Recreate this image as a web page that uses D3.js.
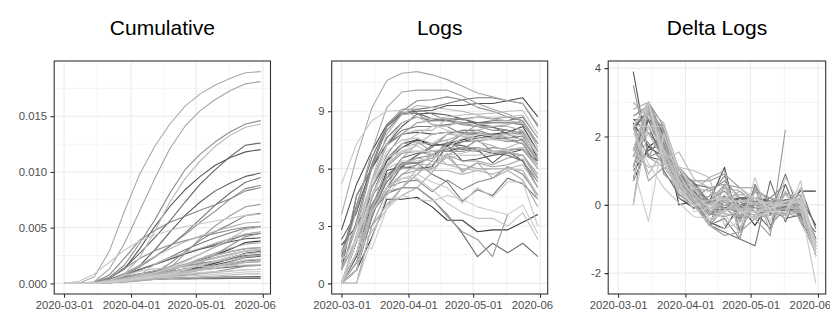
<!DOCTYPE html>
<html>
<head>
<meta charset="utf-8">
<script src="https://cdn.jsdelivr.net/npm/d3@7"></script>
<style>
  body { margin: 0; background: #fff; }
  text { font-family: "Liberation Sans", Arial, Helvetica, sans-serif; }
</style>
</head>
<body>
<script>
// one line per state, alphabetical (the grey shade follows this order)
const states = ["Alabama","Alaska","Arizona","Arkansas","California","Colorado","Connecticut","Delaware",
  "District of Columbia","Florida","Georgia","Hawaii","Idaho","Illinois","Indiana","Iowa","Kansas","Kentucky",
  "Louisiana","Maine","Maryland","Massachusetts","Michigan","Minnesota","Mississippi","Missouri","Montana",
  "Nebraska","Nevada","New Hampshire","New Jersey","New Mexico","New York","North Carolina","North Dakota",
  "Ohio","Oklahoma","Oregon","Pennsylvania","Rhode Island","South Carolina","South Dakota","Tennessee","Texas",
  "Utah","Vermont","Virginia","Washington","West Virginia","Wisconsin","Wyoming"];

const weeks = ["2020-03-01","2020-03-08","2020-03-15","2020-03-22","2020-03-29","2020-04-05","2020-04-12",
  "2020-04-19","2020-04-26","2020-05-03","2020-05-10","2020-05-17","2020-05-24","2020-05-31"];

// cumulative cases per 1000 residents
const cumPer1000 = [
  [0,0,0.03,0.16,0.41,0.78,1.09,1.36,1.70,2.11,2.56,3.06,3.67,3.81],
  [0,0,0.02,0.13,0.24,0.36,0.44,0.47,0.51,0.53,0.55,0.57,0.60,0.62],
  [0,0,0.02,0.10,0.31,0.55,0.73,0.94,1.18,1.48,1.82,2.20,2.68,2.82],
  [0,0,0.01,0.12,0.27,0.40,0.55,0.98,1.18,1.40,1.67,1.97,2.33,2.43],
  [0,0.01,0.04,0.14,0.33,0.53,0.75,1.03,1.31,1.63,1.93,2.29,2.70,2.85],
  [0,0.02,0.09,0.35,0.78,1.26,1.69,2.17,2.64,3.07,3.41,3.74,4.00,4.09],
  [0,0,0.06,0.45,1.30,3.10,5.10,6.90,8.40,9.60,10.6,11.3,11.8,12.0],
  [0,0,0.04,0.20,0.70,1.60,3.00,4.60,6.10,7.30,8.30,9.00,9.60,9.90],
  [0,0,0.09,0.45,1.40,2.70,4.10,5.60,7.30,8.90,10.2,11.4,12.4,12.6],
  [0,0,0.03,0.19,0.52,0.87,1.12,1.36,1.57,1.78,2.00,2.23,2.51,2.60],
  [0,0,0.04,0.23,0.66,1.22,1.70,2.17,2.69,3.11,3.54,3.96,4.34,4.48],
  [0,0,0.03,0.11,0.22,0.30,0.35,0.39,0.41,0.42,0.43,0.44,0.45,0.45],
  [0,0,0.02,0.16,0.61,0.83,0.97,1.08,1.16,1.24,1.35,1.46,1.60,1.64],
  [0,0.01,0.06,0.34,0.89,1.60,2.39,3.33,4.51,5.77,7.03,8.13,9.07,9.50],
  [0,0,0.03,0.25,0.70,1.22,1.74,2.34,3.01,3.58,4.10,4.55,4.95,5.07],
  [0,0,0.02,0.10,0.27,0.54,0.95,1.80,2.83,3.86,4.65,5.33,6.08,6.30],
  [0,0,0.02,0.12,0.29,0.47,0.71,1.12,1.60,2.12,2.53,2.84,3.12,3.20],
  [0,0,0.01,0.06,0.17,0.33,0.51,0.78,1.03,1.25,1.52,1.77,2.02,2.11],
  [0,0.01,0.11,0.76,2.26,3.88,4.74,5.49,6.03,6.57,7.06,7.60,8.30,8.60],
  [0,0,0.03,0.14,0.29,0.40,0.51,0.62,0.73,0.88,1.07,1.29,1.55,1.62],
  [0,0,0.03,0.18,0.63,1.46,2.37,3.37,4.38,5.48,6.48,7.58,8.50,8.80],
  [0,0.01,0.07,0.55,1.65,3.60,5.70,8.10,10.2,11.6,12.7,13.6,14.3,14.6],
  [0,0,0.04,0.44,1.34,2.24,2.94,3.44,3.84,4.19,4.49,4.79,5.04,5.12],
  [0,0,0.02,0.06,0.14,0.23,0.37,0.64,1.08,1.80,2.60,3.40,4.20,4.47],
  [0,0,0.02,0.17,0.47,0.81,1.14,1.51,2.05,2.62,3.26,3.83,4.43,4.63],
  [0,0,0.01,0.13,0.38,0.66,0.82,0.98,1.15,1.34,1.51,1.67,1.87,1.94],
  [0,0,0.02,0.13,0.27,0.41,0.47,0.50,0.52,0.53,0.53,0.56,0.56,0.56],
  [0,0,0.02,0.05,0.13,0.29,0.60,1.38,2.68,4.03,5.17,6.10,6.88,7.09],
  [0,0,0.03,0.20,0.53,0.85,1.11,1.37,1.56,1.76,1.92,2.15,2.41,2.51],
  [0,0.01,0.04,0.13,0.35,0.57,0.86,1.23,1.60,1.97,2.30,2.63,2.92,3.03],
  [0,0.01,0.15,1.30,3.60,6.50,9.40,12.1,14.1,15.5,16.5,17.3,17.9,18.1],
  [0,0,0.02,0.09,0.24,0.48,0.71,1.10,1.67,2.24,2.72,3.15,3.53,3.65],
  [0,0.01,0.60,2.90,6.50,9.80,12.3,14.3,15.9,17.0,17.8,18.4,18.9,19.0],
  [0,0,0.02,0.08,0.20,0.34,0.48,0.66,0.90,1.18,1.52,1.90,2.38,2.52],
  [0,0,0.03,0.11,0.24,0.44,0.77,1.23,1.62,2.15,2.54,2.87,3.13,3.21],
  [0,0,0.02,0.13,0.35,0.60,0.86,1.33,1.71,2.01,2.31,2.61,2.87,2.95],
  [0,0,0.01,0.08,0.20,0.38,0.53,0.66,0.79,0.89,0.99,1.09,1.22,1.26],
  [0,0,0.02,0.08,0.17,0.27,0.35,0.44,0.51,0.59,0.66,0.76,0.84,0.86],
  [0,0,0.03,0.22,0.77,1.63,2.41,3.11,3.74,4.25,4.68,5.07,5.42,5.51],
  [0,0,0.04,0.18,0.85,2.30,4.70,7.30,9.40,11.0,12.3,13.3,14.0,14.3],
  [0,0,0.02,0.12,0.31,0.57,0.73,0.86,1.02,1.18,1.36,1.59,1.90,2.00],
  [0,0,0.02,0.08,0.25,0.71,1.73,2.30,2.75,3.15,3.60,4.06,4.46,4.55],
  [0,0,0.03,0.18,0.44,0.74,0.96,1.33,1.65,1.95,2.24,2.57,2.94,3.06],
  [0,0,0.01,0.06,0.21,0.42,0.61,0.82,1.04,1.28,1.54,1.82,2.11,2.20],
  [0,0,0.03,0.16,0.35,0.54,0.75,1.00,1.28,1.63,1.94,2.29,2.66,2.79],
  [0,0,0.06,0.30,0.70,1.10,1.30,1.40,1.46,1.51,1.56,1.59,1.65,1.67],
  [0,0,0.01,0.07,0.25,0.54,0.95,1.36,1.93,2.64,3.34,4.05,4.81,5.05],
  [0.02,0.20,0.85,1.90,3.00,3.80,4.35,4.75,5.10,5.35,5.60,5.85,6.10,6.20],
  [0,0,0.01,0.06,0.20,0.37,0.48,0.56,0.64,0.72,0.83,0.91,1.02,1.06],
  [0,0,0.03,0.16,0.33,0.50,0.67,0.88,1.22,1.63,2.01,2.44,2.96,3.10],
  [0,0.02,0.03,0.12,0.30,0.44,0.57,0.74,0.89,0.99,1.07,1.13,1.23,1.26]
];

// log of weekly new cases (null = no value drawn)
const logs = [
  [0,2.2,5.0,6.4,7.1,7.5,7.3,7.2,7.4,7.6,7.7,7.8,8.0,6.5],
  [0,0.7,2.4,4.4,4.4,4.5,4.0,3.3,3.3,2.7,2.8,2.8,3.2,3.6],
  [2.0,3.0,4.6,6.4,7.3,7.5,7.2,7.3,7.5,7.7,7.8,7.9,8.2,6.9],
  [0,1.1,3.6,5.9,6.1,6.0,6.1,7.2,6.4,6.5,6.7,6.8,7.0,6.4],
  [2.8,5.2,6.9,8.3,8.9,9.0,9.05,9.3,9.3,9.4,9.4,9.55,9.7,8.7],
  [0.7,4.6,6.0,7.3,7.8,7.9,7.8,7.9,7.9,7.8,7.6,7.55,7.3,6.2],
  [0,2.3,5.3,7.3,8.2,8.85,8.9,8.8,8.6,8.3,8.2,7.8,7.5,6.4],
  [0,1.4,3.7,5.0,6.1,6.7,7.2,7.3,7.2,7.0,6.3,6.9,6.4,5.3],
  [0,1.6,4.1,5.5,6.55,6.8,6.9,6.9,7.1,7.0,6.8,6.7,6.4,5.0],
  [2.3,3.7,6.2,8.2,8.85,8.9,8.6,8.5,8.4,8.4,8.5,8.5,8.7,7.6],
  [1.4,3.9,6.0,7.6,8.4,8.7,8.5,8.5,8.6,8.4,8.4,8.4,8.3,7.3],
  [0,0.7,3.7,4.7,5.0,5.0,4.4,3.6,2.6,1.4,2.1,1.6,2.1,1.4],
  [0,0.7,3.4,5.5,6.3,6.3,5.7,5.3,4.3,4.9,4.6,5.5,5.2,4.4],
  [1.6,4.1,6.55,8.2,8.85,9.1,9.2,9.4,9.6,9.7,9.7,9.55,9.4,8.2],
  [0,2.3,5.3,7.3,8.0,8.2,8.2,8.3,8.4,8.2,8.15,8.0,7.9,6.7],
  [0,2.3,4.1,5.3,6.2,6.7,7.1,7.8,8.0,8.0,7.75,7.6,7.7,6.4],
  [0,1.6,3.7,5.7,6.2,6.3,6.55,7.4,7.0,7.5,6.9,6.8,6.7,5.5],
  [0,2.3,3.7,5.3,6.2,6.55,6.7,7.1,7.0,6.9,7.1,7.0,7.0,6.0],
  [0.7,3.3,6.2,8.0,8.85,8.9,8.3,8.2,7.8,7.8,7.75,7.8,7.9,6.7],
  [0,0.7,3.7,5.0,5.3,5.4,4.8,5.4,4.9,5.3,5.5,6.1,5.7,4.6],
  [0,2.3,5.0,6.7,7.8,8.4,8.5,8.6,8.6,8.7,8.6,8.7,8.5,7.3],
  [1.1,4.6,6.0,8.2,9.0,9.55,9.6,9.75,9.6,9.2,9.0,8.7,8.5,7.3],
  [0.7,3.0,6.0,8.3,9.1,9.1,8.85,8.5,8.3,8.2,8.0,8.0,7.8,6.7],
  [0,1.6,4.6,5.5,6.0,6.2,6.7,7.3,7.8,8.3,8.4,8.4,8.4,7.3],
  [0,1.1,3.9,6.1,6.8,6.9,6.9,7.0,7.4,7.45,7.55,7.4,7.5,6.4],
  [0,1.6,4.4,6.55,7.3,7.4,6.9,6.9,6.9,7.1,6.9,6.9,7.1,6.0],
  [0,0,3.0,4.8,5.0,5.0,4.4,3.5,2.7,2.3,1.4,3.6,null,null],
  [0,2.3,3.0,4.1,5.0,5.7,6.4,7.3,7.8,7.9,7.7,7.5,7.3,6.0],
  [0,1.6,4.6,6.2,6.9,6.9,6.7,6.7,6.4,6.4,6.2,6.55,6.7,5.7],
  [0.7,2.3,3.7,4.8,5.7,5.9,6.0,6.6,5.9,6.3,6.1,6.2,6.5,5.0],
  [1.1,3.9,6.9,9.2,10.0,10.1,10.1,10.1,9.8,9.4,9.1,8.85,8.5,7.3],
  [0,1.6,3.7,5.0,5.7,6.2,6.2,6.7,7.1,7.1,6.9,6.8,6.7,5.5],
  [3.6,6.6,9.15,10.6,10.98,11.07,10.9,10.65,10.3,9.95,9.75,9.55,9.4,8.3],
  [0.7,2.3,5.0,6.55,7.1,7.3,7.3,7.5,7.8,8.0,8.2,8.3,8.5,7.3],
  [0,0,3.0,4.1,4.6,5.0,5.8,6.8,5.8,6.3,5.5,5.9,5.4,4.0],
  [0,2.3,5.3,7.2,7.8,8.0,8.0,8.6,8.4,8.2,8.2,8.2,8.0,6.9],
  [0,1.1,3.9,5.5,6.2,6.55,6.4,6.2,6.2,6.0,6.0,6.0,6.2,5.0],
  [0.7,3.0,3.9,5.5,6.0,6.0,5.9,5.9,5.7,5.9,5.7,6.0,5.9,4.6],
  [0,2.6,5.4,7.8,8.85,9.3,9.2,9.1,9.0,8.8,8.6,8.5,8.4,7.1],
  [0,1.6,3.7,5.0,6.55,7.3,7.8,7.9,7.7,7.4,7.2,6.9,6.7,5.3],
  [0,2.3,4.6,6.2,6.9,7.2,6.7,6.55,6.7,6.7,6.8,7.1,7.4,6.2],
  [0,1.6,2.7,3.9,5.0,6.0,6.8,6.2,6.0,5.9,6.0,6.0,5.9,4.4],
  [0,2.3,5.3,6.9,7.5,7.6,7.3,7.8,7.7,7.6,7.6,7.7,7.8,6.7],
  [1.6,3.0,5.3,7.3,8.4,8.7,8.6,8.7,8.8,8.85,8.9,9.0,9.05,7.8],
  [0,1.6,4.6,6.0,6.4,6.4,6.55,6.7,6.8,7.0,6.9,7.0,7.1,6.0],
  [0,0.7,3.7,5.0,5.5,5.5,4.9,4.2,3.7,3.4,3.4,3.0,3.7,2.3],
  [0,2.3,4.6,6.2,7.3,7.8,8.2,8.2,8.5,8.7,8.7,8.7,8.8,7.6],
  [5.2,7.3,8.5,9.0,9.05,8.7,8.3,8.0,7.8,7.6,7.5,7.5,7.6,6.5],
  [0,0,2.3,4.6,5.5,5.7,5.3,5.0,4.2,5.0,4.5,5.3,5.3,3.0],
  [0,2.3,5.3,6.55,6.9,6.9,6.9,7.1,7.6,7.8,7.7,7.8,8.0,6.7],
  [1.2,2.3,1.8,3.9,4.6,4.4,4.3,4.6,4.4,4.0,3.8,3.6,4.1,2.6]
];

// week-on-week change of the logs, from 2020-03-08
const deltaLogs = [
  [2.2,2.8,1.4,0.7,0.4,-0.2,-0.1,0.2,0.2,0.1,0.1,0.2,-1.5],
  [0.7,1.7,2.0,0,0.1,-0.5,-0.7,0,-0.6,0.1,0,0.4,0.4],
  [1.0,1.6,1.8,0.9,0.2,-0.3,0.1,0.2,0.2,0.1,0.1,0.3,-1.3],
  [1.1,2.5,2.3,0.2,-0.1,0.1,1.1,-0.8,0.1,0.2,0.1,0.2,-0.6],
  [2.4,1.7,1.4,0.6,0.1,0.05,0.25,0,0.1,0,0.15,0.15,-1.0],
  [3.9,1.4,1.3,0.5,0.1,-0.1,0.1,0,-0.1,-0.2,-0.05,-0.25,-1.1],
  [2.3,3.0,2.0,0.9,0.65,0.05,-0.1,-0.2,-0.3,-0.1,-0.4,-0.3,-1.1],
  [1.4,2.3,1.3,1.1,0.6,0.5,0.1,-0.1,-0.2,-0.7,0.6,-0.5,-1.1],
  [1.6,2.5,1.4,1.05,0.25,0.1,0,0.2,-0.1,-0.2,-0.1,-0.3,-1.4],
  [1.4,2.5,2.0,0.65,0.05,-0.3,-0.1,-0.1,0,0.1,0,0.2,-1.1],
  [2.5,2.1,1.6,0.8,0.3,-0.2,0,0.1,-0.2,0,0,-0.1,-1.0],
  [0.7,3.0,1.0,0.3,0,-0.6,-0.8,-1.0,-1.2,0.7,-0.5,0.5,-0.7],
  [0.7,2.7,2.1,0.8,0,-0.6,-0.4,-1.0,0.6,-0.3,0.9,-0.3,-0.8],
  [2.5,2.45,1.65,0.65,0.25,0.1,0.2,0.2,0.1,0,-0.15,-0.15,-1.2],
  [2.3,3.0,2.0,0.7,0.2,0,0.1,0.1,-0.2,-0.05,-0.15,-0.1,-1.2],
  [2.3,1.8,1.2,0.9,0.5,0.4,0.7,0.2,0,-0.25,-0.15,0.1,-1.3],
  [1.6,2.1,2.0,0.5,0.1,0.25,0.85,-0.4,0.5,-0.6,-0.1,-0.1,-1.2],
  [2.3,1.4,1.6,0.9,0.35,0.15,0.4,-0.1,-0.1,0.2,-0.1,0,-1.0],
  [2.6,2.9,1.8,0.85,0.05,-0.6,-0.1,-0.4,0,-0.05,0.05,0.1,-1.2],
  [0.7,3.0,1.3,0.3,0.1,-0.6,0.6,-0.5,0.4,0.2,0.6,-0.4,-1.1],
  [2.3,2.7,1.7,1.1,0.6,0.1,0.1,0,0.1,-0.1,0.1,-0.2,-1.2],
  [3.5,1.4,2.2,0.8,0.55,0.05,0.15,-0.15,-0.4,-0.2,-0.3,-0.2,-1.2],
  [2.3,3.0,2.3,0.8,0,-0.25,-0.35,-0.2,-0.1,-0.2,0,-0.2,-1.1],
  [1.6,3.0,0.9,0.5,0.2,0.5,0.6,0.5,0.5,0.1,0,0,-1.1],
  [1.1,2.8,2.2,0.7,0.1,0,0.1,0.4,0.05,0.1,-0.15,0.1,-1.1],
  [1.6,2.8,2.15,0.75,0.1,-0.5,0,0,0.2,-0.2,0,0.2,-1.1],
  [0,3.0,1.8,0.2,0,-0.6,-0.9,-0.8,-0.4,-0.9,2.2,null,null],
  [2.3,0.7,1.1,0.9,0.7,0.7,0.9,0.5,0.1,-0.2,-0.2,-0.2,-1.3],
  [1.6,3.0,1.6,0.7,0,-0.2,0,-0.3,0,-0.2,0.35,0.15,-1.0],
  [1.6,1.4,1.1,0.9,0.2,0.1,0.6,-0.7,0.4,-0.2,0.1,0.3,-1.5],
  [2.8,3.0,2.3,0.8,0.1,0,0,-0.3,-0.4,-0.3,-0.25,-0.35,-1.2],
  [1.6,2.1,1.3,0.7,0.5,0,0.5,0.4,0,-0.2,-0.1,-0.1,-1.2],
  [3.0,2.55,1.45,0.4,0.1,-0.2,-0.25,-0.35,-0.35,-0.2,-0.2,-0.15,-1.1],
  [1.6,2.7,1.55,0.55,0.2,0,0.2,0.3,0.2,0.2,0.1,0.2,-1.2],
  [0,3.0,1.1,0.5,0.4,0.8,1.0,-1.0,0.5,-0.8,0.4,-0.5,-1.4],
  [2.3,3.0,1.9,0.6,0.2,0,0.6,-0.2,-0.2,0,0,-0.2,-1.1],
  [1.1,2.8,1.6,0.7,0.35,-0.15,-0.2,0,-0.2,0,0,0.2,-1.2],
  [2.3,0.9,1.6,0.5,0,-0.1,0,-0.2,0.2,-0.2,0.3,-0.1,-1.3],
  [2.6,2.8,2.4,1.05,0.45,-0.1,-0.1,-0.1,-0.2,-0.2,-0.1,-0.1,-1.3],
  [1.6,2.1,1.3,1.55,0.75,0.5,0.1,-0.2,-0.3,-0.2,-0.3,-0.2,-1.4],
  [2.3,2.3,1.6,0.7,0.3,-0.5,-0.15,0.15,0,0.1,0.3,0.3,-1.2],
  [1.6,1.1,1.2,1.1,1.0,0.8,-0.6,-0.2,-0.1,0.1,0,-0.1,-1.5],
  [2.3,3.0,1.6,0.6,0.1,-0.3,0.5,-0.1,-0.1,0,0.1,0.1,-1.1],
  [1.4,2.3,2.0,1.1,0.3,-0.1,0.1,0.1,0.05,0.05,0.1,0.05,-1.25],
  [1.6,3.0,1.4,0.4,0,0.15,0.15,0.1,0.2,-0.1,0.1,0.1,-1.1],
  [0.7,3.0,1.3,0.5,0,-0.6,-0.7,-0.5,-0.3,0,-0.4,0.7,-1.4],
  [2.3,2.3,1.6,1.1,0.5,0.4,0,0.3,0.2,0,0,0.1,-1.2],
  [2.1,1.2,0.5,0.05,-0.35,-0.4,-0.3,-0.2,-0.2,-0.1,0,0.1,-1.1],
  [0,2.3,2.3,0.9,0.2,-0.4,-0.3,-0.8,0.8,-0.5,0.8,0,-2.3],
  [2.3,3.0,1.25,0.35,0,0,0.2,0.5,0.2,-0.1,0.1,0.2,-1.3],
  [1.1,-0.5,2.1,0.7,-0.2,-0.1,0.3,-0.2,-0.4,-0.2,-0.2,0.5,-1.5]
];

const xTicks = ["2020-03-01","2020-04-01","2020-05-01","2020-06-01"];
const cumTicks = [0, 0.005, 0.010, 0.015];
const logTicks = [0, 3, 6, 9];
const deltaTicks = [-2, 0, 2, 4];

// ---------- layout ----------
const W = 830, H = 332;
const colW = W / 3;
const plotTop = 61, plotBottom = 294;
const parseDay = s => new Date(s + "T00:00:00Z");
const dates = weeks.map(parseDay);

const svg = d3.select("body").append("svg")
    .attr("width", W).attr("height", H)
    .style("background", "#fff");

// scale_colour_grey(): grey levels from 0.2 to 0.8 with gamma 2.2
const g0 = Math.pow(0.2, 2.2), g1 = Math.pow(0.8, 2.2);
const shade = i => {
    const v = Math.round(255 * Math.pow(g0 + (g1 - g0) * i / (states.length - 1), 1 / 2.2));
    return d3.rgb(v, v, v).formatHex();
};

const panels = [
    {title: "Cumulative", col: 0, left: 54.2, right: 270.5,
     series: cumPer1000.map(r => r.map(v => v / 1000)), x: dates,
     ticks: cumTicks, fmt: d3.format(".3f")},
    {title: "Logs", col: 1, left: 331.7, right: 547.7,
     series: logs, x: dates, ticks: logTicks, fmt: d => String(d)},
    {title: "Delta Logs", col: 2, left: 608.2, right: 825.7,
     series: deltaLogs, x: dates.slice(1), ticks: deltaTicks, fmt: d => String(d)}
];

// x limits: full date range, padded 5% like ggplot
const pad = (dates[dates.length - 1] - dates[0]) * 0.05;
const xDomain = [new Date(+dates[0] - pad), new Date(+dates[dates.length - 1] + pad)];

panels.forEach(p => {
    const x = d3.scaleUtc().domain(xDomain).range([p.left, p.right]);
    const vals = p.series.flat().filter(v => v != null);
    const [lo, hi] = d3.extent(vals);
    const ypad = (hi - lo) * 0.05;
    const y = d3.scaleLinear().domain([lo - ypad, hi + ypad]).range([plotBottom, plotTop]);

    svg.append("clipPath").attr("id", "col" + p.col)
      .append("rect").attr("x", p.col * colW).attr("y", 0).attr("width", colW).attr("height", H);
    svg.append("clipPath").attr("id", "plot" + p.col)
      .append("rect").attr("x", p.left).attr("y", plotTop)
      .attr("width", p.right - p.left).attr("height", plotBottom - plotTop);

    const g = svg.append("g").attr("clip-path", `url(#col${p.col})`);

    // grid
    const step = p.ticks[1] - p.ticks[0];
    const yMinor = d3.range(p.ticks[0] - step / 2, hi + ypad, step).filter(v => v > lo - ypad);
    const xt = xTicks.map(parseDay);
    const xMinor = d3.pairs(xt).map(([a, b]) => new Date((+a + +b) / 2));
    const grid = g.append("g").attr("clip-path", `url(#plot${p.col})`);
    grid.selectAll(".ymin").data(yMinor).join("line")
        .attr("x1", p.left).attr("x2", p.right)
        .attr("y1", d => y(d)).attr("y2", d => y(d))
        .attr("stroke", "#ebebeb").attr("stroke-width", 0.55);
    grid.selectAll(".xmin").data(xMinor).join("line")
        .attr("y1", plotTop).attr("y2", plotBottom)
        .attr("x1", d => x(d)).attr("x2", d => x(d))
        .attr("stroke", "#ebebeb").attr("stroke-width", 0.55);
    grid.selectAll(".ymaj").data(p.ticks).join("line")
        .attr("x1", p.left).attr("x2", p.right)
        .attr("y1", d => y(d)).attr("y2", d => y(d))
        .attr("stroke", "#ebebeb").attr("stroke-width", 1.1);
    grid.selectAll(".xmaj").data(xt).join("line")
        .attr("y1", plotTop).attr("y2", plotBottom)
        .attr("x1", d => x(d)).attr("x2", d => x(d))
        .attr("stroke", "#ebebeb").attr("stroke-width", 1.1);

    // lines, drawn in state order so the lighter greys end on top
    const line = d3.line()
        .defined(d => d[1] != null)
        .x(d => x(d[0])).y(d => y(d[1]));
    grid.selectAll(".state").data(p.series).join("path")
        .attr("d", s => line(s.map((v, i) => [p.x[i], v])))
        .attr("fill", "none")
        .attr("stroke", (s, i) => shade(i))
        .attr("stroke-width", 1.1)
        .attr("stroke-linejoin", "round");

    g.append("rect")
        .attr("x", p.left).attr("y", plotTop)
        .attr("width", p.right - p.left).attr("height", plotBottom - plotTop)
        .attr("fill", "none").attr("stroke", "#333").attr("stroke-width", 1.1);

    // axes
    const ax = g.append("g").attr("transform", `translate(0,${plotBottom})`)
        .call(d3.axisBottom(x).tickValues(xt).tickFormat(d3.utcFormat("%Y-%m-%d"))
              .tickSize(3.7).tickPadding(3));
    const ay = g.append("g").attr("transform", `translate(${p.left},0)`)
        .call(d3.axisLeft(y).tickValues(p.ticks).tickFormat(p.fmt)
              .tickSize(3.7).tickPadding(3.5));
    [ax, ay].forEach(a => {
        a.select(".domain").remove();
        a.selectAll(".tick line").attr("stroke", "#333").attr("stroke-width", 1.1);
        a.selectAll(".tick text").attr("fill", "#4d4d4d")
            .style("font-size", "11.3px");
    });

    g.append("text")
        .attr("x", (p.left + p.right) / 2).attr("y", 35)
        .attr("text-anchor", "middle")
        .style("font-size", "21px").attr("fill", "#000")
        .text(p.title);
});
</script>
</body>
</html>
